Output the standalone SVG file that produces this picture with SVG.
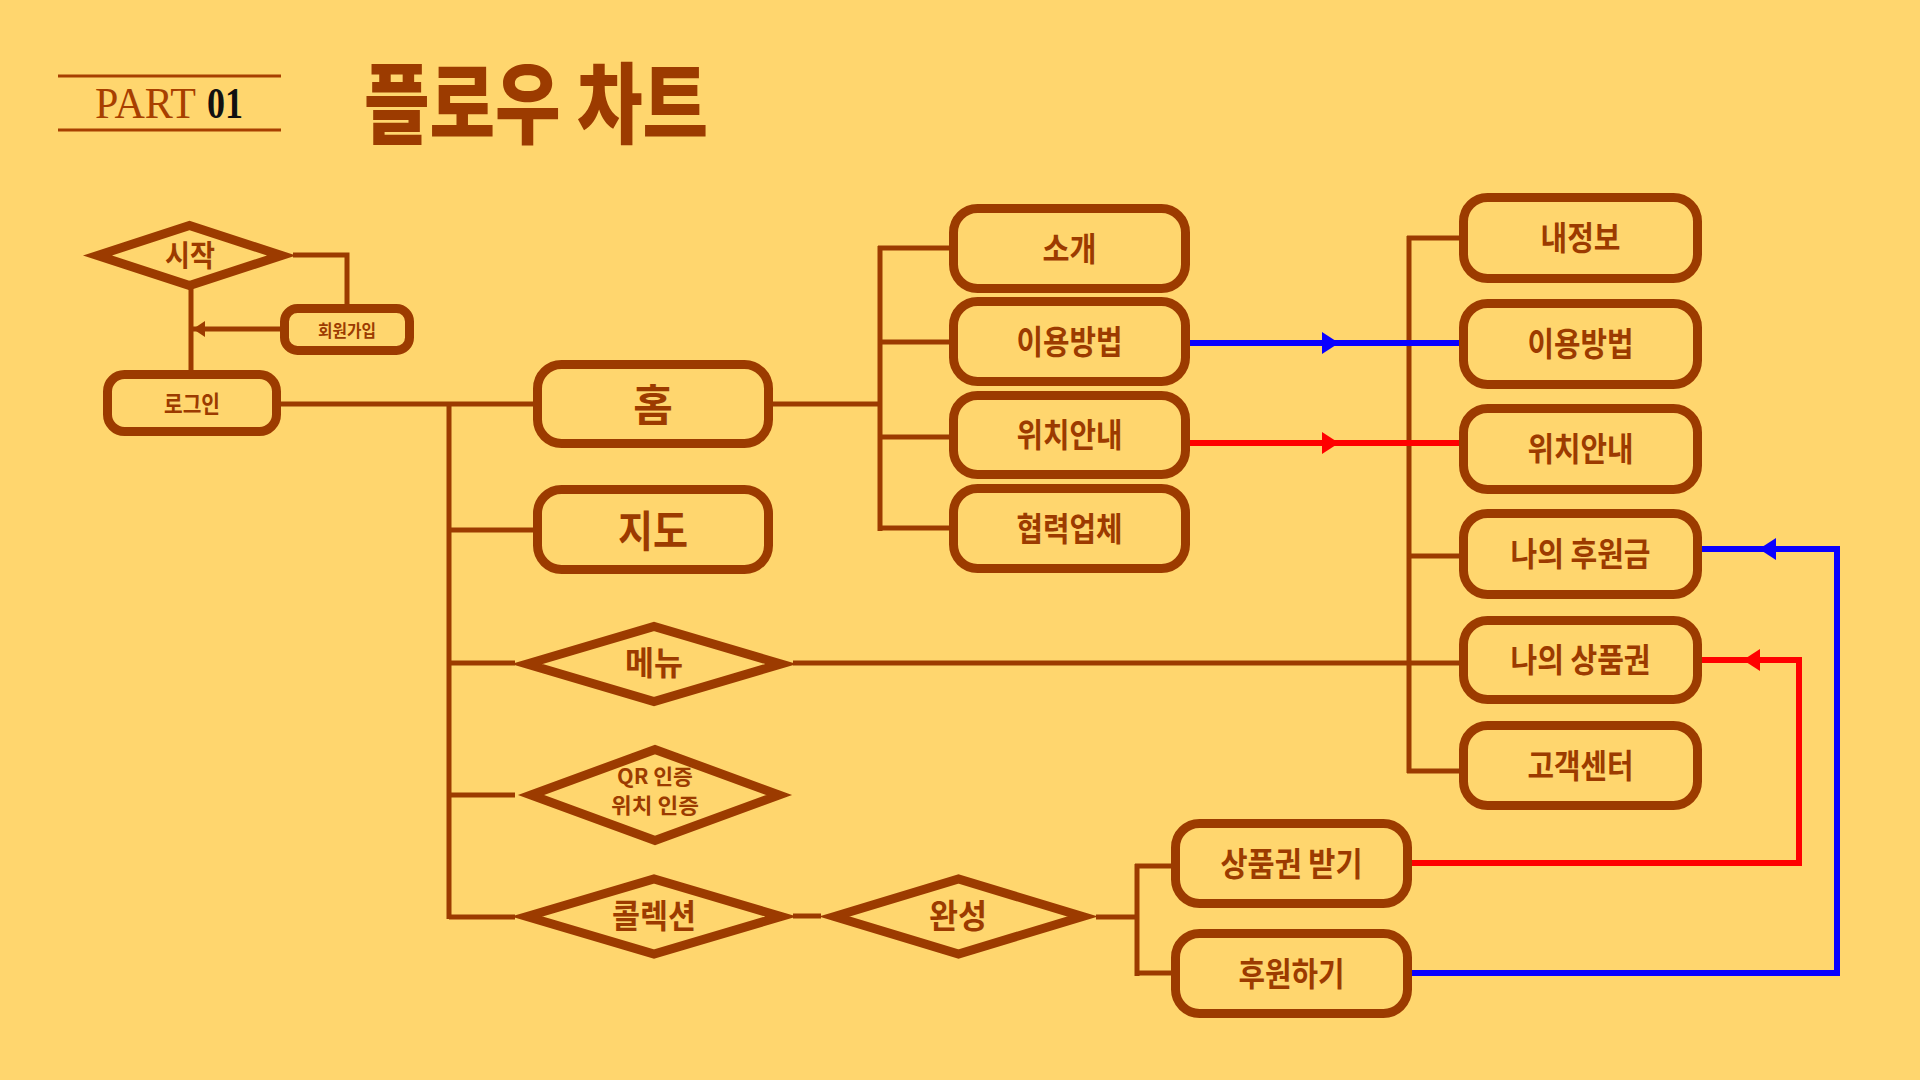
<svg xmlns="http://www.w3.org/2000/svg" width="1920" height="1080" viewBox="0 0 1920 1080">
<style>
.bg{fill:#FFD66E}
.box{fill:none;stroke:#9C3B00;stroke-width:9}
.dia{fill:none;stroke:#9C3B00;stroke-width:9;stroke-linejoin:miter}
.lbl{font-family:"Noto Sans CJK KR","Noto Sans CJK SC",sans-serif;font-weight:700;fill:#9C3B00;text-anchor:middle;dominant-baseline:central;font-size:33px}
.conn{fill:none;stroke:#9C3B00;stroke-width:5}
.blue{fill:none;stroke:#0A00FF;stroke-width:6}
.red{fill:none;stroke:#FF0000;stroke-width:6}
.rule{stroke:#A83F00;stroke-width:3}
</style>
<defs>
<marker id="arrBlue" markerUnits="userSpaceOnUse" viewBox="0 -11 17 22" markerWidth="17" markerHeight="22" refX="17" refY="0" orient="auto"><path d="M0,-11 L17,0 L0,11 Z" fill="#0A00FF"/></marker>
<marker id="arrRed" markerUnits="userSpaceOnUse" viewBox="0 -11 17 22" markerWidth="17" markerHeight="22" refX="17" refY="0" orient="auto"><path d="M0,-11 L17,0 L0,11 Z" fill="#FF0000"/></marker>
<marker id="arrBrown" markerUnits="userSpaceOnUse" viewBox="0 -8 12 16" markerWidth="12" markerHeight="16" refX="12" refY="0" orient="auto"><path d="M0,-8 L12,0 L0,8 Z" fill="#9C3B00"/></marker>
</defs>
<rect class="bg" x="0" y="0" width="1920" height="1080"/>

<g id="header">
<line class="rule" x1="58" y1="76" x2="281" y2="76"/>
<line class="rule" x1="58" y1="130" x2="281" y2="130"/>
<text x="95" y="118" font-family="'Liberation Serif',serif" font-size="44" textLength="101" lengthAdjust="spacingAndGlyphs" fill="#A83F00">PART</text>
<text x="207" y="118" font-family="'Liberation Serif',serif" font-size="44" font-weight="700" textLength="36" lengthAdjust="spacingAndGlyphs" fill="#111111">01</text>
<text x="364" y="136" font-family="'Noto Sans CJK KR',sans-serif" font-weight="900" font-size="88" textLength="344" lengthAdjust="spacingAndGlyphs" fill="#9C3B00">플로우 차트</text>
</g>

<g id="connectors">
<path class="conn" d="M293,255 L347,255 L347,309" stroke-width="4"/>
<path class="conn" d="M191,288 L191,375" stroke-width="4"/>
<path class="conn" d="M283,329 L193,329" stroke-width="4" marker-end="url(#arrBrown)"/>
<path class="conn" d="M278,404 L535,404"/>
<path class="conn" d="M449,404 L449,919"/>
<path class="conn" d="M449,530 L535,530"/>
<path class="conn" d="M449,663 L515,663"/>
<path class="conn" d="M449,795 L515,795"/>
<path class="conn" d="M449,917 L515,917"/>
<path class="conn" d="M793,916 L821,916"/>
<path class="conn" d="M1096,917 L1137,917"/>
<path class="conn" d="M1137,864 L1137,976"/>
<path class="conn" d="M1135,866 L1173,866"/>
<path class="conn" d="M1135,973 L1173,973"/>
<path class="conn" d="M771,404 L880,404"/>
<path class="conn" d="M880,246 L880,531"/>
<path class="conn" d="M878,248 L951,248"/>
<path class="conn" d="M878,342 L951,342"/>
<path class="conn" d="M878,437 L951,437"/>
<path class="conn" d="M878,528 L951,528"/>
<path class="conn" d="M793,663 L1461,663"/>
<path class="conn" d="M1409,236 L1409,773"/>
<path class="conn" d="M1407,238 L1461,238"/>
<path class="conn" d="M1407,556 L1461,556"/>
<path class="conn" d="M1407,771 L1461,771"/>
<path class="blue" d="M1190,343 L1339,343" marker-end="url(#arrBlue)"/>
<path class="blue" d="M1339,343 L1459,343"/>
<path class="red" d="M1190,443 L1339,443" marker-end="url(#arrRed)"/>
<path class="red" d="M1339,443 L1459,443"/>
<path class="blue" d="M1412,973 L1837,973 L1837,549 L1759,549" marker-end="url(#arrBlue)"/>
<path class="blue" d="M1759,549 L1702,549"/>
<path class="red" d="M1412,863 L1799,863 L1799,660 L1743,660" marker-end="url(#arrRed)"/>
<path class="red" d="M1743,660 L1702,660"/>
</g>

<g id="start">
<polygon class="dia" points="97.5,255.5 189.5,225.5 281.5,255.5 189.5,285.5" stroke-width="7"/>
<text class="lbl" x="190" y="253" textLength="50" lengthAdjust="spacingAndGlyphs" style="font-size:30px">시작</text>
</g>
<g id="signup">
<rect class="box" x="284.5" y="308.5" width="125" height="42" rx="13" stroke-width="5"/>
<text class="lbl" x="347" y="329" textLength="58" lengthAdjust="spacingAndGlyphs" style="font-size:17px">회원가입</text>
</g>
<g id="login">
<rect class="box" x="107.5" y="374.5" width="169" height="57" rx="17" stroke-width="7"/>
<text class="lbl" x="192" y="402" textLength="56" lengthAdjust="spacingAndGlyphs" style="font-size:24px">로그인</text>
</g>
<g id="home">
<rect class="box" x="537.5" y="364.5" width="231" height="79" rx="24"/>
<text class="lbl" x="653" y="402" style="font-size:43px">홈</text>
</g>
<g id="map">
<rect class="box" x="537.5" y="489.5" width="231" height="80" rx="24"/>
<text class="lbl" x="653" y="528" textLength="70" lengthAdjust="spacingAndGlyphs" style="font-size:43px">지도</text>
</g>
<g id="menu">
<polygon class="dia" points="527,664 654,626.5 781,664 654,701.5"/>
<text class="lbl" x="654" y="661" textLength="58" lengthAdjust="spacingAndGlyphs">메뉴</text>
</g>
<g id="qr">
<polygon class="dia" points="531,795 655,749.5 779,795 655,840.5" stroke-width="12"/>
<text class="lbl" x="655" y="775" textLength="76" lengthAdjust="spacingAndGlyphs" style="font-size:21px">QR 인증</text>
<text class="lbl" x="655" y="804" textLength="88" lengthAdjust="spacingAndGlyphs" style="font-size:21px">위치 인증</text>
</g>
<g id="collection">
<polygon class="dia" points="527,916.5 654,879 781,916.5 654,954"/>
<text class="lbl" x="654" y="914" textLength="84" lengthAdjust="spacingAndGlyphs">콜렉션</text>
</g>
<g id="complete">
<polygon class="dia" points="834.5,916.5 958.5,879 1082.5,916.5 958.5,954"/>
<text class="lbl" x="958" y="914" textLength="58" lengthAdjust="spacingAndGlyphs">완성</text>
</g>
<g id="intro">
<rect class="box" x="953.5" y="208.5" width="232" height="80" rx="24"/>
<text class="lbl" x="1069.5" y="246.5" textLength="54" lengthAdjust="spacingAndGlyphs">소개</text>
</g>
<g id="howto1">
<rect class="box" x="953.5" y="301.5" width="232" height="80" rx="24"/>
<text class="lbl" x="1069.5" y="339.5" textLength="106" lengthAdjust="spacingAndGlyphs">이용방법</text>
</g>
<g id="location1">
<rect class="box" x="953.5" y="395.5" width="232" height="79" rx="24"/>
<text class="lbl" x="1069.5" y="433" textLength="106" lengthAdjust="spacingAndGlyphs">위치안내</text>
</g>
<g id="partners">
<rect class="box" x="953.5" y="488.5" width="232" height="80" rx="24"/>
<text class="lbl" x="1069.5" y="526.5" textLength="106" lengthAdjust="spacingAndGlyphs">협력업체</text>
</g>
<g id="myinfo">
<rect class="box" x="1463.5" y="197.5" width="234" height="81" rx="24"/>
<text class="lbl" x="1580.5" y="236" textLength="80" lengthAdjust="spacingAndGlyphs">내정보</text>
</g>
<g id="howto2">
<rect class="box" x="1463.5" y="303.5" width="234" height="81" rx="24"/>
<text class="lbl" x="1580.5" y="342" textLength="106" lengthAdjust="spacingAndGlyphs">이용방법</text>
</g>
<g id="location2">
<rect class="box" x="1463.5" y="408.5" width="234" height="81" rx="24"/>
<text class="lbl" x="1580.5" y="447" textLength="106" lengthAdjust="spacingAndGlyphs">위치안내</text>
</g>
<g id="mydonation">
<rect class="box" x="1463.5" y="513.5" width="234" height="81" rx="24"/>
<text class="lbl" x="1580.5" y="552" textLength="140" lengthAdjust="spacingAndGlyphs">나의 후원금</text>
</g>
<g id="myvoucher">
<rect class="box" x="1463.5" y="620.5" width="234" height="79" rx="24"/>
<text class="lbl" x="1580.5" y="658" textLength="140" lengthAdjust="spacingAndGlyphs">나의 상품권</text>
</g>
<g id="support">
<rect class="box" x="1463.5" y="725.5" width="234" height="80" rx="24"/>
<text class="lbl" x="1580.5" y="763.5" textLength="106" lengthAdjust="spacingAndGlyphs">고객센터</text>
</g>
<g id="getvoucher">
<rect class="box" x="1175.5" y="823.5" width="232" height="80" rx="24"/>
<text class="lbl" x="1291.5" y="861.5" textLength="142" lengthAdjust="spacingAndGlyphs">상품권 받기</text>
</g>
<g id="donate">
<rect class="box" x="1175.5" y="933.5" width="232" height="80" rx="24"/>
<text class="lbl" x="1291.5" y="971.5" textLength="106" lengthAdjust="spacingAndGlyphs">후원하기</text>
</g>
</svg>
